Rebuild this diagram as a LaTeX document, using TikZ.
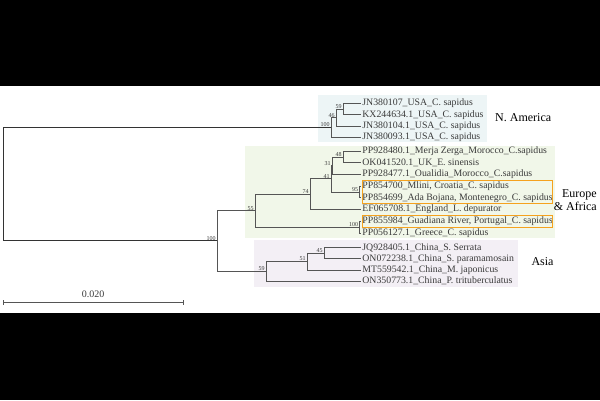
\documentclass[tikz,border=0pt]{standalone}
\usepackage{fontspec}
\setmainfont{Liberation Serif}
\definecolor{nabg}{HTML}{EDF5F6}
\definecolor{eubg}{HTML}{F1F7E9}
\definecolor{asbg}{HTML}{F3EFF5}
\definecolor{hiorange}{HTML}{F5A21E}
\definecolor{treeline}{HTML}{555555}
\definecolor{leaftext}{HTML}{3A3A3A}
\begin{document}
\begin{tikzpicture}[x=1pt,y=-1pt,
  branch/.style={draw=treeline,line width=0.75pt},
  rootbranch/.style={draw=black!80,line width=0.9pt},
  leaf/.style={anchor=west,inner sep=1.2pt,text=leaftext,font=\fontsize{9.8}{10}\selectfont},
  boot/.style={anchor=south east,inner sep=0.3pt,text=leaftext,font=\fontsize{6}{6.5}\selectfont,xshift=-0.8pt},
  region/.style={font=\fontsize{12}{13.5}\selectfont,text=black,inner sep=0pt},
  hibox/.style={draw=hiorange,line width=1.1pt}]
\useasboundingbox (0,0) rectangle (600,400);
% black bands
\fill[black] (0,0) rectangle (600,86);
\fill[black] (0,313) rectangle (600,400);
% clade backgrounds
\fill[nabg] (318,95) rectangle (487,141.5);
\fill[eubg] (245,145.5) rectangle (555,238);
\fill[asbg] (254,240) rectangle (518,287);
% internal nodes
\coordinate (root) at (3,184.2);
\coordinate (na100) at (331,127.5);
\coordinate (na46) at (336,117.6);
\coordinate (na59) at (343,109.2);
\coordinate (eu48) at (343,156.9);
\coordinate (eu31) at (332,165.6);
\coordinate (eu95) at (359.5,192);
\coordinate (eu41) at (331,178.8);
\coordinate (eu74) at (310,194.1);
\coordinate (eu100) at (359.5,227);
\coordinate (eu55) at (255,210.6);
\coordinate (as45) at (324,253.1);
\coordinate (as51) at (307,261.5);
\coordinate (as59) at (266,271.3);
\coordinate (in100) at (217,240.9);
% leaves
\node[leaf] (l1) at (361,103.5) {JN380107\_USA\_C. sapidus};
\node[leaf] (l2) at (361,114.8) {KX244634.1\_USA\_C. sapidus};
\node[leaf] (l3) at (361,126.1) {JN380104.1\_USA\_C. sapidus};
\node[leaf] (l4) at (361,137.4) {JN380093.1\_USA\_C. sapidus};
\node[leaf] (l5) at (361,151) {PP928480.1\_Merja Zerga\_Morocco\_C.sapidus};
\node[leaf] (l6) at (361,162.7) {OK041520.1\_UK\_E. sinensis};
\node[leaf] (l7) at (361,174.4) {PP928477.1\_Oualidia\_Morocco\_C.sapidus};
\node[leaf] (l8) at (361,186.1) {PP854700\_Mlini, Croatia\_C. sapidus};
\node[leaf] (l9) at (361,197.8) {PP854699\_Ada Bojana, Montenegro\_C. sapidus};
\node[leaf] (l10) at (361,209.5) {EF065708.1\_England\_L. depurator};
\node[leaf] (l11) at (361,221.2) {PP855984\_Guadiana River, Portugal\_C. sapidus};
\node[leaf] (l12) at (361,232.9) {PP056127.1\_Greece\_C. sapidus};
\node[leaf] (l13) at (361,247.5) {JQ928405.1\_China\_S. Serrata};
\node[leaf] (l14) at (361,258.7) {ON072238.1\_China\_S. paramamosain};
\node[leaf] (l15) at (361,269.9) {MT559542.1\_China\_M. japonicus};
\node[leaf] (l16) at (361,281.1) {ON350773.1\_China\_P. trituberculatus};
% highlight boxes
\draw[hibox] (362.5,180.5) rectangle (552.5,203.5);
\draw[hibox] (362.5,215.5) rectangle (552.5,227.5);
% branches
\draw[rootbranch] (root) |- (na100);
\draw[rootbranch] (root) |- (in100);
\draw[branch] (na100) |- (na46);
\draw[branch] (na100) |- (l4.west);
\draw[branch] (na46) |- (na59);
\draw[branch] (na46) |- (l3.west);
\draw[branch] (na59) |- (l1.west);
\draw[branch] (na59) |- (l2.west);
\draw[branch] (in100) |- (eu55);
\draw[branch] (in100) |- (as59);
\draw[branch] (eu55) |- (eu74);
\draw[branch] (eu55) |- (eu100);
\draw[branch] (eu74) |- (eu41);
\draw[branch] (eu74) |- (l10.west);
\draw[branch] (eu41) |- (eu31);
\draw[branch] (eu41) |- (eu95);
\draw[branch] (eu31) |- (eu48);
\draw[branch] (eu31) |- (l7.west);
\draw[branch] (eu48) |- (l5.west);
\draw[branch] (eu48) |- (l6.west);
\draw[branch] (eu95) |- (l8.west);
\draw[branch] (eu95) |- (l9.west);
\draw[branch] (eu100) |- (l11.west);
\draw[branch] (eu100) |- (l12.west);
\draw[branch] (as59) |- (as51);
\draw[branch] (as59) |- (l16.west);
\draw[branch] (as51) |- (as45);
\draw[branch] (as51) |- (l15.west);
\draw[branch] (as45) |- (l13.west);
\draw[branch] (as45) |- (l14.west);
% bootstrap values
\node[boot] (b1) at (na59) {59};
\node[boot] (b2) at (na46) {46};
\node[boot] (b3) at (na100) {100};
\node[boot] (b4) at (eu48) {48};
\node[boot] (b5) at (eu31) {31};
\node[boot] (b6) at (eu41) {41};
\node[boot] (b7) at (eu95) {95};
\node[boot] (b8) at (eu74) {74};
\node[boot] (b9) at (eu100) {100};
\node[boot] (b10) at (eu55) {55};
\node[boot] (b11) at (in100) {100};
\node[boot] (b12) at (as45) {45};
\node[boot] (b13) at (as51) {51};
\node[boot] (b14) at (as59) {59};
% region labels
\node[region,anchor=west] (rna) at (495,118) {N. America};
\node[region,align=right,anchor=east] (reu) at (597,200) {Europe\\\& Africa};
\node[region] (ras) at (542.5,262) {Asia};
% scale bar
\coordinate (sb1) at (3,302);
\coordinate (sb2) at (183,302);
\draw[branch] (sb1) -- (sb2);
\draw[branch] ([yshift=-2.5pt]sb1) -- ([yshift=2.5pt]sb1);
\draw[branch] ([yshift=-2.5pt]sb2) -- ([yshift=2.5pt]sb2);
\node[font=\fontsize{10}{11}\selectfont,text=leaftext,anchor=south,inner sep=1.5pt] (sbl) at (93,299) {0.020};
\end{tikzpicture}
\end{document}
